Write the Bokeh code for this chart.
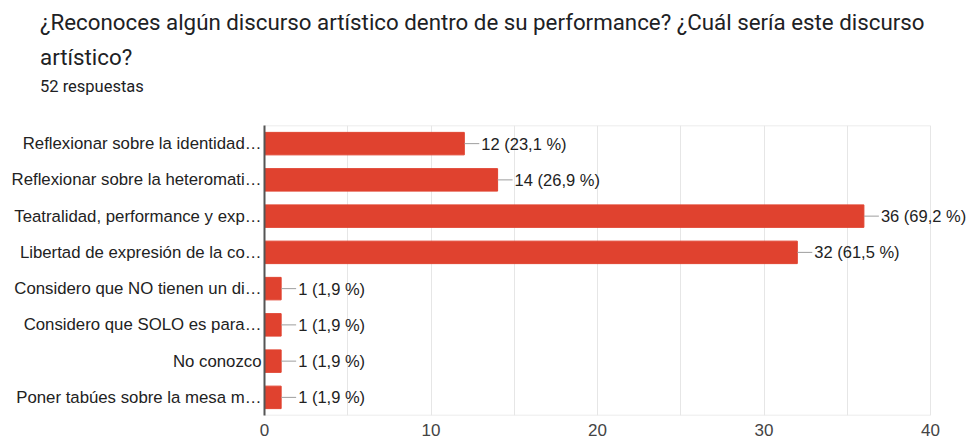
from bokeh.plotting import figure
from bokeh.models import ColumnDataSource, LabelSet, Title, FixedTicker, Range1d
from bokeh.core.properties import value
from bokeh.embed import file_html
from bokeh.resources import INLINE

title_line1 = "¿Reconoces algún discurso artístico dentro de su performance? ¿Cuál sería este discurso"
title_line2 = "artístico?"
subtitle = "52 respuestas"

categories = [
    "Reflexionar sobre la identidad…",
    "Reflexionar sobre la heteromati…",
    "Teatralidad, performance y exp…",
    "Libertad de expresión de la co…",
    "Considero que NO tienen un di…",
    "Considero que SOLO es para…",
    "No conozco",
    "Poner tabúes sobre la mesa m…",
]
counts = [12, 14, 36, 32, 1, 1, 1, 1]
percents = ["23,1", "26,9", "69,2", "61,5", "1,9", "1,9", "1,9", "1,9"]
x_ticks = [0, 10, 20, 30, 40]
grid_ticks = [0, 5, 10, 15, 20, 25, 30, 35, 40]
x_axis_max = 40

n_cat = len(categories)
ypos = [n_cat - i for i in range(n_cat)]
labels = [f"{c} ({p} %)" for c, p in zip(counts, percents)]
src = ColumnDataSource(dict(y=ypos, n=counts, lab=labels,
                            n_end=[c + 0.9 for c in counts]))

W, H = 971, 438
left_b, top_b, right_b = 264, 125, 0
px_per_unit = 16.65
x_view_end = (W - left_b - right_b) / px_per_unit
y_lo, y_hi = 0.5, n_cat + 0.5

p = figure(width=W, height=H, output_backend="svg", toolbar_location=None,
           x_range=Range1d(0, x_view_end), y_range=Range1d(y_lo, y_hi),
           min_border_left=left_b, min_border_right=right_b, min_border_top=top_b,
           min_border_bottom=0, title=None)

p.hbar(y="y", right="n", left=0, height=0.62, source=src,
       fill_color="#e0422f", line_color="#e0422f")
p.segment(x0="n", y0="y", x1="n_end", y1="y", source=src,
          line_color="#9e9e9e", line_width=1)
p.add_layout(LabelSet(x="n", y="y", text="lab", source=src, x_offset=17,
                      text_baseline="middle", text_font=value("Liberation Sans"),
                      text_font_size=value("16.5px"), text_color="#222222"))

# plot-area border up to the last axis value
p.segment(x0=[0, 0], y0=[y_lo, y_hi], x1=[x_axis_max, x_axis_max], y1=[y_lo, y_hi],
          line_color="#e6e6e6", line_width=1.5)

p.outline_line_color = None
p.ygrid.grid_line_color = None
p.xgrid.ticker = FixedTicker(ticks=grid_ticks)
p.xgrid.grid_line_color = "#e6e6e6"

p.xaxis.ticker = FixedTicker(ticks=x_ticks)
p.xaxis.axis_line_color = None
p.xaxis.major_tick_line_color = None
p.xaxis.minor_tick_line_color = None
p.xaxis.major_tick_out = 0
p.xaxis.major_label_standoff = 8
p.xaxis.major_label_text_font = "Liberation Sans"
p.xaxis.major_label_text_font_size = "17px"
p.xaxis.major_label_text_color = "#444444"

p.yaxis.ticker = FixedTicker(ticks=ypos)
p.yaxis.major_label_overrides = {y: c for y, c in zip(ypos, categories)}
p.yaxis.axis_line_color = "#555555"
p.yaxis.axis_line_width = 2
p.yaxis.major_tick_line_color = None
p.yaxis.minor_tick_line_color = None
p.yaxis.major_tick_out = 0
p.yaxis.major_label_standoff = 3
p.yaxis.major_label_text_font = "Liberation Sans"
p.yaxis.major_label_text_font_size = "16.8px"
p.yaxis.major_label_text_color = "#222222"

off = 39.5 - left_b
# spacer between the plot area and the subtitle
p.add_layout(Title(text=" ", text_font_size="1px", standoff=24), "above")
for txt, size, so in [(subtitle, "16.5px", 6), (title_line2, "22.3px", 4), (title_line1, "22.3px", 9.4)]:
    p.add_layout(Title(text=txt, align="left", offset=off, text_font="Roboto",
                       text_font_size=size, text_font_style="normal",
                       text_color="#202124", standoff=so), "above")

open("out.html", "w").write(file_html(p, INLINE))
